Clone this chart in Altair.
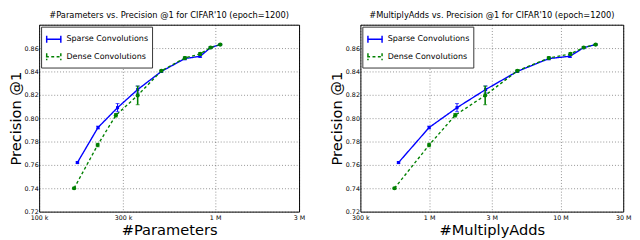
import altair as alt
import pandas as pd

series = ["Sparse Convolutions", "Dense Convolutions"]
colors = ["#0000ff", "#008000"]
dashes = [[1, 0], [3, 2.5]]

params_sparse = [165e3, 216e3, 279e3, 363e3, 495e3, 673e3, 822e3, 942e3, 1.07e6]
params_dense = [158e3, 215e3, 273e3, 363e3, 495e3, 673e3, 822e3, 942e3, 1.07e6]
madds_sparse = [585e3, 1.0e6, 1.63e6, 2.69e6, 4.69e6, 8.14e6, 11.8e6, 15.0e6, 18.5e6]
madds_dense = [545e3, 1.0e6, 1.58e6, 2.67e6, 4.69e6, 8.14e6, 11.9e6, 15.0e6, 18.5e6]
prec_sparse = [0.762, 0.792, 0.809, 0.8245, 0.840, 0.851, 0.853, 0.8604, 0.863]
prec_dense = [0.740, 0.777, 0.8025, 0.8195, 0.8405, 0.8515, 0.855, 0.8605, 0.863]
err_sparse = [0.0006, 0.0012, 0.0035, 0.003, 0.0008, 0.001, 0.001, 0.0006, 0.0005]
err_dense = [0.0008, 0.0015, 0.0015, 0.008, 0.0008, 0.0012, 0.0012, 0.0008, 0.0005]

y_ticks = [0.72, 0.74, 0.76, 0.78, 0.80, 0.82, 0.84, 0.86, 0.88]
y_labels = ["0.72", "0.74", "0.76", "0.78", "0.80", "0.82", "0.84", "0.86", ""]
params_ticks = [1e5, 3e5, 1e6, 3e6]
params_labels = ["100 k", "300 k", "1 M", "3 M"]
madds_ticks = [3e5, 1e6, 3e6, 1e7, 3e7]
madds_labels = ["300 k", "1 M", "3 M", "10 M", "30 M"]


def label_expr(vals, labels):
    expr = "''"
    for v, l in reversed(list(zip(vals, labels))):
        fv = repr(float(v))
        expr = f"abs(datum.value - {fv}) < 1e-6 * {fv} ? '{l}' : ({expr})"
    return expr


def panel(xs_s, xs_d, xdom, xticks, xlabels, xtitle, title, w, h):
    df_s = pd.DataFrame({
        "x": xs_s, "y": prec_sparse,
        "lo": [p - e for p, e in zip(prec_sparse, err_sparse)],
        "hi": [p + e for p, e in zip(prec_sparse, err_sparse)],
        "s": series[0]})
    df_d = pd.DataFrame({
        "x": xs_d, "y": prec_dense,
        "lo": [p - e for p, e in zip(prec_dense, err_dense)],
        "hi": [p + e for p, e in zip(prec_dense, err_dense)],
        "s": series[1]})
    df = pd.concat([df_s, df_d], ignore_index=True)

    xscale = alt.Scale(type="log", domain=xdom, nice=False)
    yscale = alt.Scale(domain=[0.72, 0.88], nice=False, zero=False)
    xaxis = alt.Axis(
        values=xticks, labelExpr=label_expr(xticks, xlabels),
        title=xtitle, titleFontSize=15, titleFontWeight="normal", titlePadding=2,
        labelFontSize=6.5, labelPadding=3, labelFlush=False, labelOverlap=False,
        grid=True, tickCount=len(xticks))
    yaxis = alt.Axis(
        values=y_ticks, labelExpr=label_expr(y_ticks, y_labels),
        title="Precision @1", titleFontSize=15, titleFontWeight="normal", titlePadding=1,
        labelFontSize=6.5, labelPadding=1, labelFlush=False, labelOverlap=False,
        grid=True, tickCount=len(y_ticks))

    def X(f="x"):
        return alt.X(f + ":Q", scale=xscale, axis=xaxis)

    def Y(f):
        return alt.Y(f + ":Q", scale=yscale, axis=yaxis)

    leg = alt.Legend(title=None, orient="top-left", offset=2, fillColor="white",
                     strokeColor="#333333", padding=4, labelFontSize=8.2,
                     symbolType="M-1,0H1M-0.9,-0.45V0.45M0.9,-0.45V0.45",
                     symbolSize=260, symbolStrokeWidth=1.5, rowPadding=2,
                     labelColor="black", cornerRadius=0)
    base = alt.Chart(df)
    lines = base.mark_line(strokeWidth=1.4).encode(
        x=X(), y=Y("y"),
        color=alt.Color("s:N", scale=alt.Scale(domain=series, range=colors), legend=leg),
        strokeDash=alt.StrokeDash("s:N", scale=alt.Scale(domain=series, range=dashes), legend=leg),
    )
    layers = [lines]
    for name, col, shape, size in [(series[0], colors[0], "square", 10), (series[1], colors[1], "circle", 18)]:
        sub = base.transform_filter(alt.datum.s == name)
        layers.append(sub.mark_rule(color=col, strokeWidth=1.6 if name == series[1] else 1.0).encode(
            x=X(), y=Y("lo"), y2="hi:Q"))
        layers.append(sub.mark_tick(color=col, orient="horizontal", size=4, thickness=1).encode(
            x=X(), y=Y("lo")))
        layers.append(sub.mark_tick(color=col, orient="horizontal", size=4, thickness=1).encode(
            x=X(), y=Y("hi")))
        layers.append(sub.mark_point(color=col, filled=True, opacity=1, shape=shape, size=size).encode(
            x=X(), y=Y("y")))
    return alt.layer(*layers).properties(
        width=w, height=h,
        title=alt.TitleParams(title, fontSize=8.5, fontWeight="normal", anchor="middle", offset=2),
    )


left = panel(params_sparse, params_dense, [1e5, 3e6], params_ticks, params_labels,
             "#Parameters", "#Parameters vs. Precision @1 for CIFAR'10 (epoch=1200)", 267, 192)
right = panel(madds_sparse, madds_dense, [3e5, 3e7], madds_ticks, madds_labels,
              "#MultiplyAdds", "#MultiplyAdds vs. Precision @1 for CIFAR'10 (epoch=1200)", 270, 192)

chart = alt.hconcat(left, right, spacing=24).resolve_scale(
    x="independent", color="independent", strokeDash="independent"
).resolve_legend(color="independent", strokeDash="independent").properties(
    padding=0
).configure(
    font="DejaVu Sans"
).configure_view(stroke="black", strokeWidth=1).configure_axis(
    domain=False, ticks=False, grid=True, gridColor="black", gridDash=[1, 2],
    gridOpacity=0.55, gridWidth=0.8, labelColor="black", titleColor="black"
).configure_title(color="black")

chart.save("out.html", embed_options={"renderer": "svg", "actions": False})
